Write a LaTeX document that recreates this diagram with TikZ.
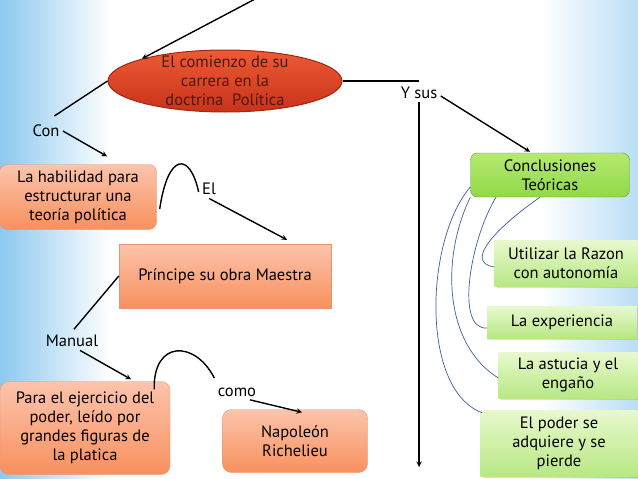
\documentclass[tikz,border=0pt]{standalone}
\usepackage{fontspec}
\setmainfont{PT Sans}
\usetikzlibrary{shapes.geometric,shadows}
\definecolor{bgblue}{HTML}{8CC8F0}
\definecolor{redtop}{HTML}{EE5A35}
\definecolor{redbot}{HTML}{C8321A}
\definecolor{rededge}{HTML}{A02810}
\definecolor{redtext}{HTML}{4A1A10}
\definecolor{salmontop}{HTML}{FCC4AC}
\definecolor{salmonbot}{HTML}{F8905E}
\definecolor{salmonedge}{HTML}{E8946C}
\definecolor{greentop}{HTML}{B4EA70}
\definecolor{greenbot}{HTML}{92D848}
\definecolor{greenedge}{HTML}{5E9E30}
\definecolor{paletop}{HTML}{E8F9CE}
\definecolor{palebot}{HTML}{B8E884}
\definecolor{bluelink}{HTML}{3F5C9C}
\tikzset{
    link/.style={line width=1.4pt},
    arrowlink/.style={line width=1.4pt, ->, >=stealth},
    thinlink/.style={color=bluelink, line width=0.7pt},
    salmonbox/.style={draw=salmonedge, top color=salmontop, bottom color=salmonbot, align=center, inner sep=0pt},
    greenbox/.style={draw=greenedge, top color=greentop, bottom color=greenbot, rounded corners=7pt, align=center, inner sep=0pt},
    palebox/.style={top color=paletop, bottom color=palebot, align=center, inner sep=0pt,
        drop shadow={opacity=0.25, shadow xshift=2pt, shadow yshift=-2pt}},
}

\begin{document}
\begin{tikzpicture}[x=1pt, y=-1pt, font=\fontsize{16.5}{19}\selectfont]
\useasboundingbox (0,0) rectangle (638,479);
\fill[white] (0,0) rectangle (638,479);
\shade[left color=bgblue, right color=white] (0,0) rectangle (110,479);
\shade[left color=white, right color=bgblue!60] (540,0) rectangle (638,479);

\node[ellipse, draw=rededge, line width=1pt, top color=redtop, bottom color=redbot, minimum width=234pt, minimum height=62pt, inner sep=0pt] (start) at (225,81) {};
\node[text=redtext, align=center] (starttext) at (225,81) {El comienzo de su\\carrera en la\\doctrina\ \ Política};
\node (con) at (46,131) {Con};
\node[salmonbox, rounded corners=8pt, minimum width=157pt, minimum height=65pt] (hab) at (78,197) {La habilidad para\\estructurar una\\teoría política};
\node (el) at (209,189) {El};
\node[salmonbox, minimum width=212pt, minimum height=64pt] (principe) at (225,276) {Príncipe su obra Maestra};
\node (manual) at (72,341) {Manual};
\node[salmonbox, rounded corners=9pt, minimum width=170pt, minimum height=93pt] (para) at (85,428) {Para el ejercicio del\\poder, leído por\\grandes figuras de\\la platica};
\node (como) at (237,392) {como};
\node[salmonbox, rounded corners=9pt, minimum width=145pt, minimum height=63pt] (napo) at (295,441) {Napoleón\\Richelieu};
\node (ysus) at (419,93) {Y sus};
\coordinate (topin) at (257,-2);
\coordinate (down) at (419,467);
\node[greenbox, minimum width=159pt, minimum height=44pt] (concl) at (550,175) {Conclusiones\\Teóricas};
\node[palebox, minimum width=143pt, minimum height=46pt] (razon) at (566,263) {Utilizar la Razon\\con autonomía};
\node[palebox, minimum width=150pt, minimum height=32pt] (exp) at (562,322) {La experiencia};
\node[palebox, minimum width=139pt, minimum height=46pt] (astucia) at (568,375) {La astucia y el\\engaño};
\node[palebox, minimum width=157pt, minimum height=66pt] (poder) at (559,443) {El poder se\\adquiere y se\\pierde};

\draw[arrowlink] (topin) -- (start.north west);
\draw[link, shorten >=10pt] (start.west) -- (con.north);
\draw[arrowlink] (con.east) -- ([xshift=29pt, yshift=8pt]hab.north);
\draw[link] ([xshift=3pt, yshift=-12pt]hab.east) .. controls (168,152) and (190,152) .. ([yshift=-3pt]el.west);
\draw[arrowlink] (el.south) -- ([xshift=62pt, yshift=4pt]principe.north);
\draw[link, shorten >=3pt] (principe.west) -- (manual.north);
\draw[arrowlink] ([xshift=8pt]manual.south) -- ([xshift=46pt, yshift=2pt]para.north);
\draw[link] ([xshift=-16pt, yshift=-8pt]para.north east) .. controls (153,340) and (195,340) .. ([yshift=6pt]como.north west);
\draw[arrowlink] ([xshift=13pt]como.south) -- ([xshift=7pt, yshift=-3pt]napo.north);
\draw[link] (start.east) -- (start.east -| ysus.north);
\draw[arrowlink] ([yshift=-3pt]ysus.east) -- ([xshift=-20pt, yshift=1pt]concl.north);
\draw[arrowlink] (ysus.south) -- (down);

\draw[thinlink] ([xshift=-10pt]concl.south) .. controls (500,225) and (462,262) .. ([yshift=-4pt]razon.west);
\draw[thinlink] ([xshift=-54pt]concl.south) .. controls (470,240) and (455,330) .. ([yshift=-6pt]exp.west);
\draw[thinlink] (concl.south west) .. controls (440,260) and (445,345) .. ([yshift=-3pt]astucia.west);
\draw[thinlink] ([yshift=-12pt]concl.west) .. controls (425,240) and (420,390) .. ([xshift=2pt, yshift=-3pt]poder.north west);
\end{tikzpicture}
\end{document}
